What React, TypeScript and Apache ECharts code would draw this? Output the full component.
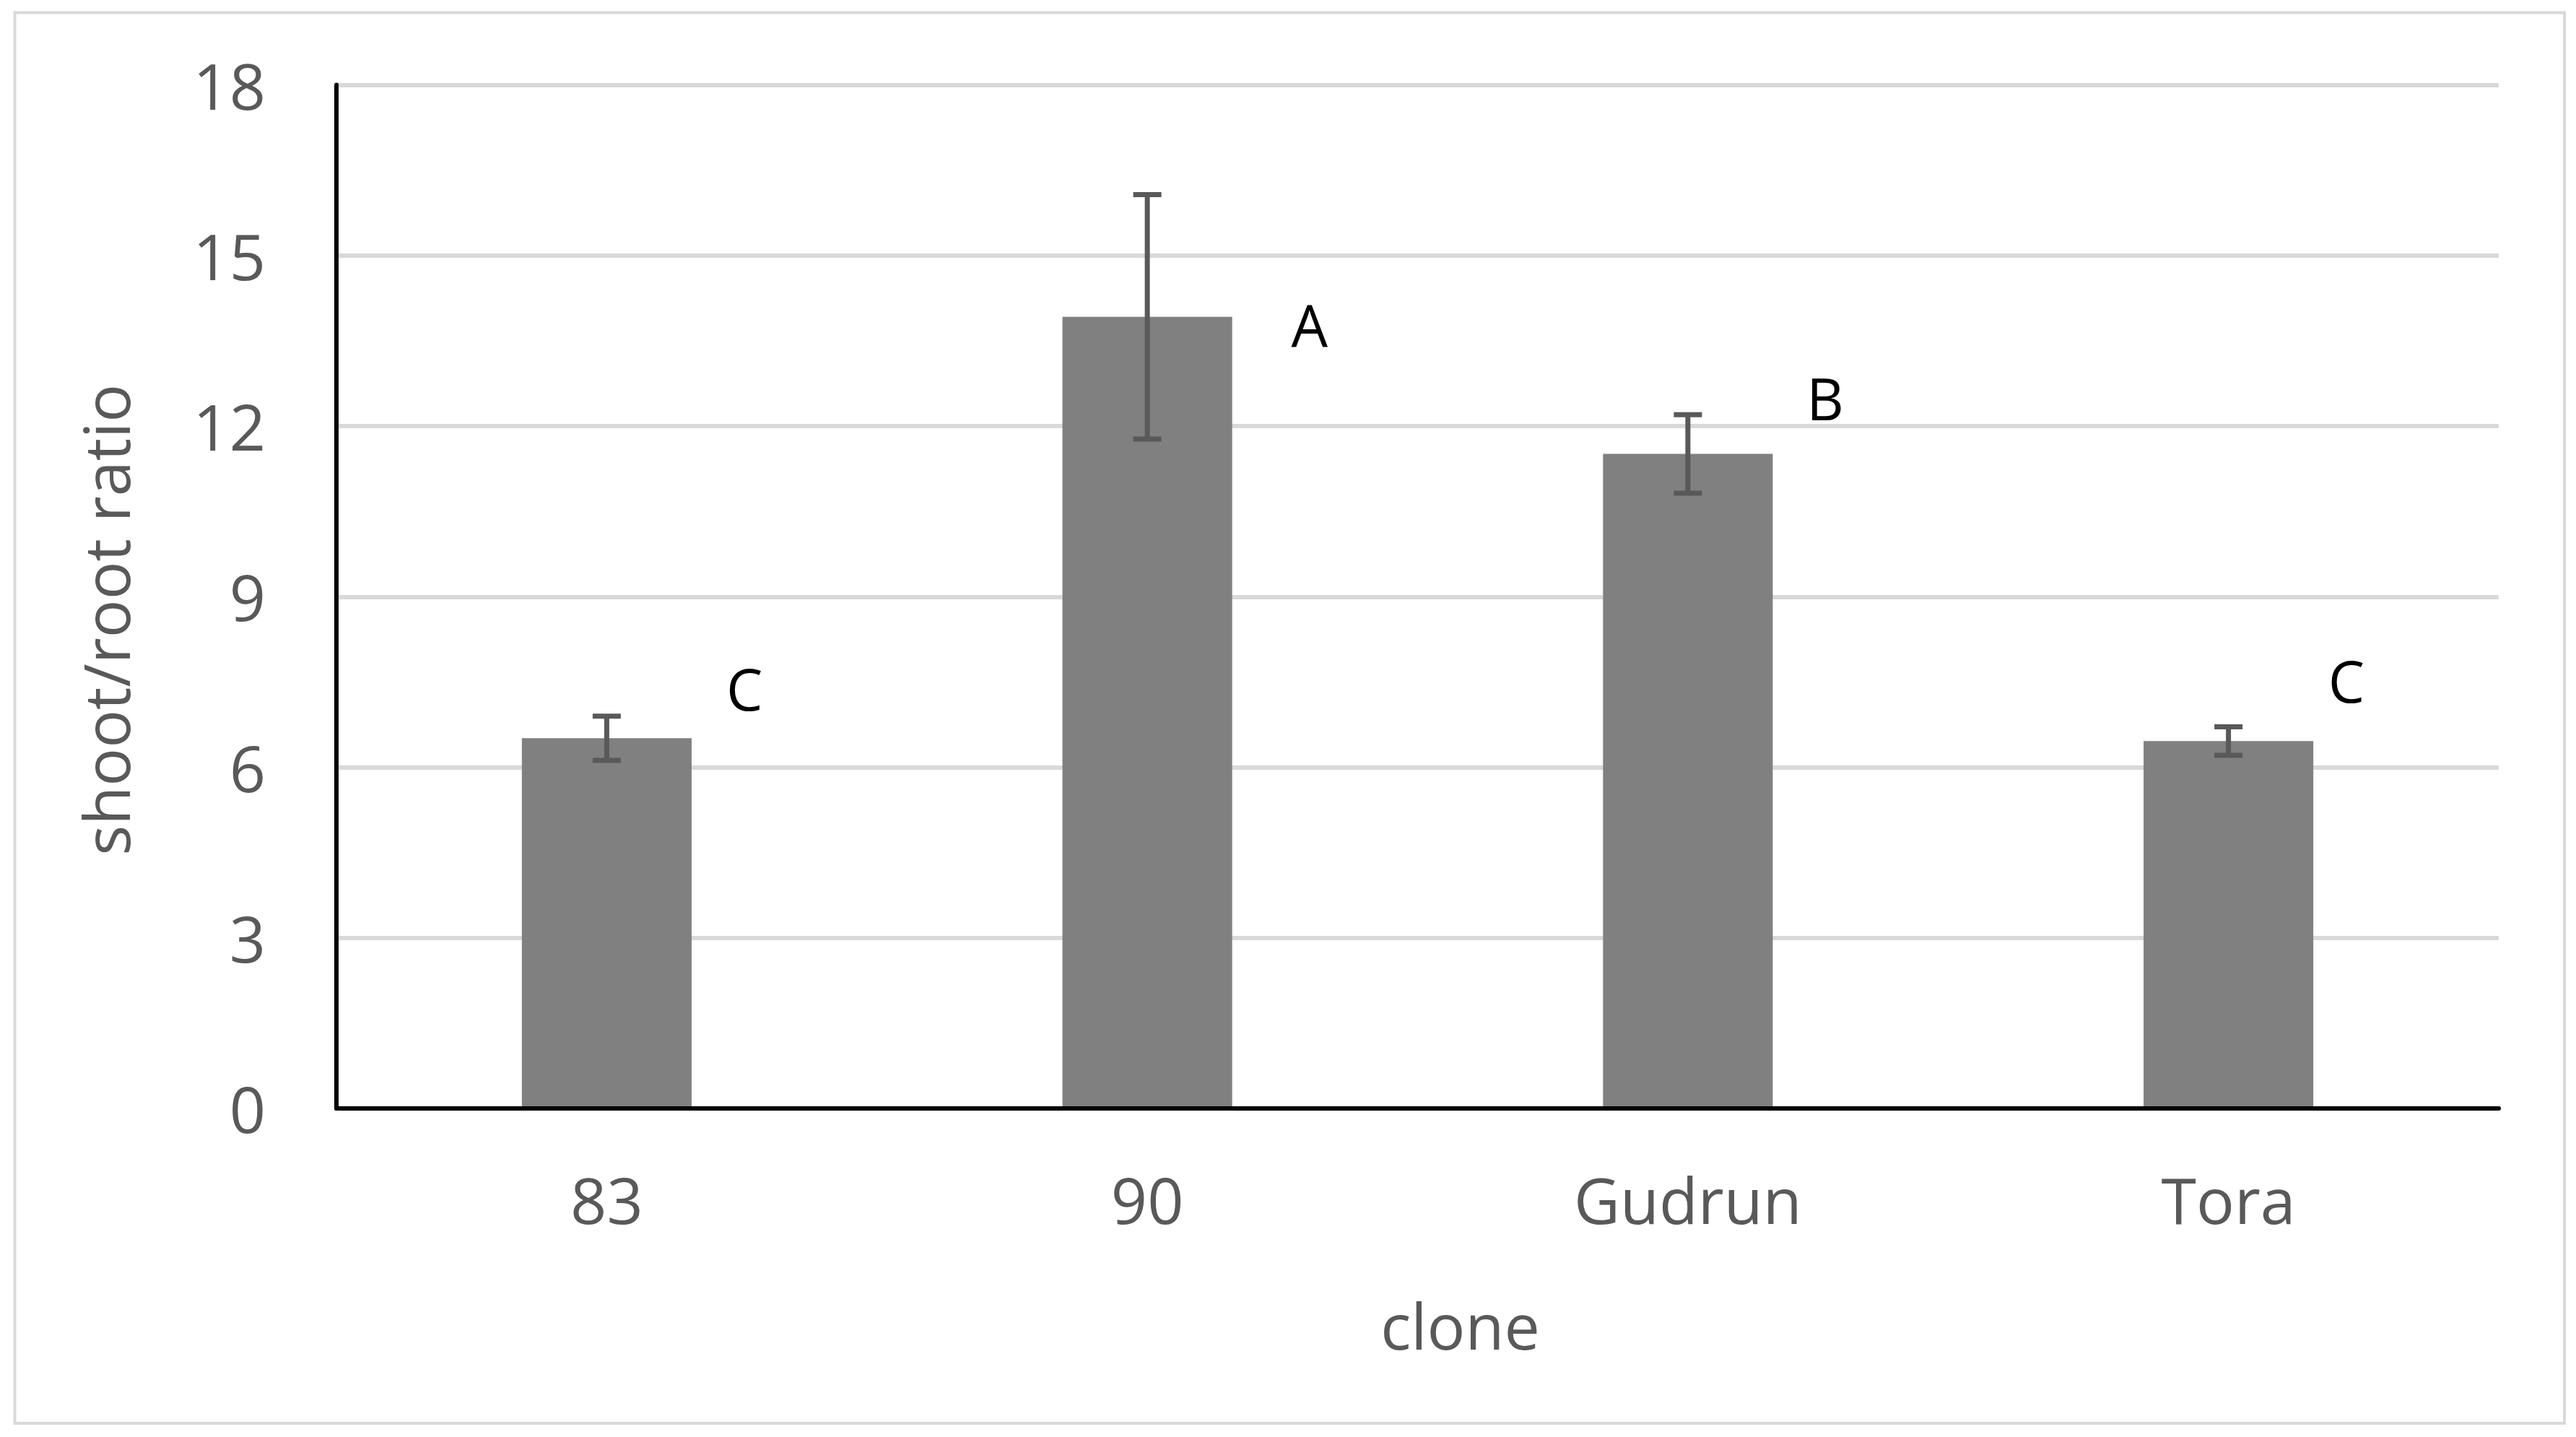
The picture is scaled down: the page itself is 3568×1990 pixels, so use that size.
import React, { useEffect, useRef } from "react";
import * as echarts from "echarts";

const categories = ["83", "90", "Gudrun", "Tora"];
const means = [6.51, 13.92, 11.51, 6.46];
const errors = [0.39, 2.15, 0.69, 0.25];
const letters = ["C", "A", "B", "C"];
const letterValues = [7.4, 13.8, 12.5, 7.54];
const letterShift = [0.255, 0.3, 0.254, 0.218];
const yMin = 0;
const yMax = 18;
const yStep = 3;

const FONT = "'Open Sans', 'Noto Sans', sans-serif";
const GRAY_TEXT = "#595959";

export default function App() {
  const ref = useRef<HTMLDivElement>(null);

  useEffect(() => {
    if (!ref.current) return;
    const chart = echarts.init(ref.current, undefined, { renderer: "svg" });

    const errorData = categories.map((_, i) => [i, means[i] - errors[i], means[i] + errors[i]]);
    const letterData = categories.map((_, i) => [i, letterValues[i], letterShift[i]]);

    chart.setOption({
      animation: false,
      backgroundColor: "#ffffff",
      graphic: [
        {
          type: "rect",
          shape: { x: 20.5, y: 17.5, width: 3531.5, height: 1953.5 },
          style: { fill: "none", stroke: "#d9d9d9", lineWidth: 4 },
          silent: true,
        },
      ],
      grid: { left: 466, right: 107, top: 117.5, bottom: 455, containLabel: false },
      xAxis: {
        type: "category",
        data: categories,
        z: 3,
        axisLine: { show: true, lineStyle: { color: "#000000", width: 6 } },
        axisTick: { show: false },
        axisLabel: { fontSize: 88, color: GRAY_TEXT, fontFamily: FONT, margin: 82 },
        splitLine: { show: false },
        name: "clone",
        nameLocation: "middle",
        nameGap: 256,
        nameTextStyle: { fontSize: 88, color: GRAY_TEXT, fontFamily: FONT, padding: [0, 0, 0, 118] },
      },
      yAxis: {
        type: "value",
        min: yMin,
        max: yMax,
        interval: yStep,
        axisLine: { show: true, lineStyle: { color: "#000000", width: 6 } },
        axisTick: { show: false },
        axisLabel: { fontSize: 88, color: GRAY_TEXT, fontFamily: FONT, margin: 98 },
        splitLine: { show: true, lineStyle: { color: "#d9d9d9", width: 6 } },
        name: "shoot/root ratio",
        nameLocation: "middle",
        nameRotate: 90,
        nameGap: 276,
        nameTextStyle: { fontSize: 88, color: GRAY_TEXT, fontFamily: FONT, padding: [0, 64, 0, 0] },
      },
      series: [
        {
          type: "bar",
          data: means,
          barWidth: "31.4%",
          itemStyle: { color: "#808080" },
          z: 2,
        },
        {
          type: "custom",
          data: errorData,
          encode: { x: 0, y: [1, 2] },
          z: 4,
          renderItem: (params: any, api: any) => {
            const i = api.value(0);
            const top = api.coord([i, api.value(2)]);
            const bot = api.coord([i, api.value(1)]);
            const half = 19.5;
            const st = { stroke: "#595959", lineWidth: 7 };
            return {
              type: "group",
              children: [
                { type: "line", shape: { x1: top[0], y1: top[1], x2: bot[0], y2: bot[1] }, style: st },
                { type: "line", shape: { x1: top[0] - half, y1: top[1], x2: top[0] + half, y2: top[1] }, style: st },
                { type: "line", shape: { x1: bot[0] - half, y1: bot[1], x2: bot[0] + half, y2: bot[1] }, style: st },
              ],
            };
          },
        },
        {
          type: "custom",
          data: letterData,
          encode: { x: 0, y: 1 },
          z: 5,
          renderItem: (params: any, api: any) => {
            const i = api.value(0);
            const p = api.coord([i, api.value(1)]);
            const band = api.size([1, 0])[0];
            return {
              type: "text",
              x: p[0] + api.value(2) * band,
              y: p[1],
              style: {
                text: letters[params.dataIndex],
                fill: "#000000",
                fontSize: 80,
                fontFamily: FONT,
                align: "center",
                verticalAlign: "middle",
                textAlign: "center",
                textVerticalAlign: "middle",
              },
            };
          },
        },
      ],
    });

    return () => {
      chart.dispose();
    };
  }, []);

  return (
    <div
      ref={ref}
      style={{ position: "absolute", left: 0, top: 0, width: 3568, height: 1990, background: "#fff" }}
    />
  );
}
